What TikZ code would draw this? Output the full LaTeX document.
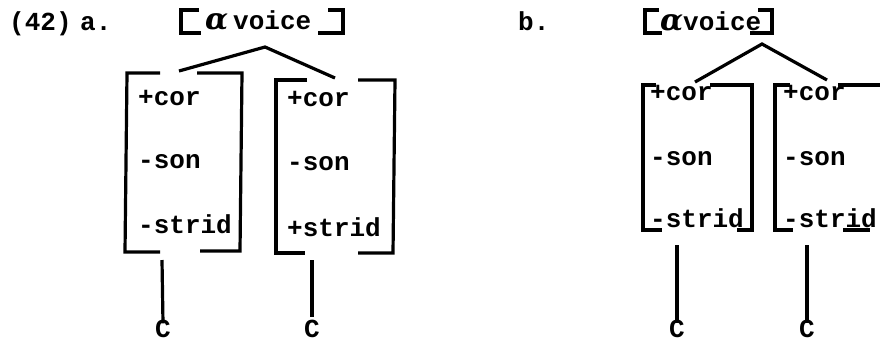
\documentclass[tikz,border=0pt]{standalone}
\usepackage{fontspec}
\setmonofont{Liberation Mono}
\newfontfamily\gkfont{DejaVu Serif}
\begin{document}
\begin{tikzpicture}[x=1pt,y=-1pt,
  txt/.style={font=\ttfamily\bfseries\fontsize{26}{28}\selectfont,inner sep=0pt,anchor=base west},
  alph/.style={font=\gkfont\bfseries\itshape\fontsize{30}{30}\selectfont,inner sep=0pt,anchor=base west},
  brk/.style={line width=3.2pt,line cap=butt,line join=miter},
  lnk/.style={line width=3.2pt,line cap=butt}]
\useasboundingbox (0,0) rectangle (880,341);
% labels
\node[txt] (num) at (9,30) {(42)};
\node[txt] (la) at (80,30) {a.};
\node[txt] (lb) at (518,30) {b.};
% ---------- a ----------
\node[alph] (aa) at (205,29) {α};
\node[txt] (va) at (233,29) {voice};
\draw[brk] (199,10) -- (181,10) -- (181,33) -- (201,33);
\draw[brk] (328,10) -- (343,10) -- (343,33) -- (318,33);
\coordinate (apa) at (265,47);
\coordinate (a1top) at (179,71);
\coordinate (a2top) at (335,78);
\draw[lnk] (a1top) -- (apa) -- (a2top);
% a1 box
\draw[brk] (160,73) -- (127,73) -- (125,252) -- (160,252);
\draw[brk] (197,73) -- (242,73) -- (240,251) -- (200,251);
\node[txt] (a1f1) at (138,105) {+cor};
\node[txt] (a1f2) at (138,168) {-son};
\node[txt] (a1f3) at (138,233) {-strid};
% a2 box
\draw[brk] (307,80) -- (276,80) -- (276,253) -- (305,253);
\draw[brk] (358,80) -- (395,80) -- (393,253) -- (358,253);
\node[txt] (a2f1) at (287,106) {+cor};
\node[txt] (a2f2) at (287,170) {-son};
\node[txt] (a2f3) at (287,236) {+strid};
% C nodes
\node[txt,anchor=base] (ca1) at (163,337) {C};
\node[txt,anchor=base] (ca2) at (312,337) {C};
\coordinate (a1b) at (162,260);
\coordinate (a2b) at (312,260);
\draw[lnk] (a1b) -- ([yshift=-4pt]ca1.north);
\draw[lnk] (a2b) -- ([yshift=2pt]ca2.north);
% ---------- b ----------
\node[alph] (ab) at (660,30) {α};
\node[txt] (vb) at (683,30) {voice};
\draw[brk] (659,10) -- (645,10) -- (645,33) -- (662,33);
\draw[brk] (758,10) -- (772,10) -- (772,33) -- (750,33);
\coordinate (apb) at (762,44);
\coordinate (b1top) at (695,82);
\coordinate (b2top) at (827,80);
\draw[lnk] (b1top) -- (apb) -- (b2top);
% b1 box
\draw[brk] (656,85) -- (643,85) -- (643,230) -- (662,230);
\draw[brk] (710,85) -- (752,85) -- (752,230) -- (737,230);
\node[txt] (b1f1) at (650,100) {+cor};
\node[txt] (b1f2) at (650,165) {-son};
\node[txt] (b1f3) at (650,227) {-strid};
% b2 box
\draw[brk] (790,85) -- (775,85) -- (775,230) -- (793,230);
\draw[brk] (838,85) -- (880,85);
\draw[brk] (843,230) -- (870,230);
\node[txt] (b2f1) at (783,100) {+cor};
\node[txt] (b2f2) at (783,165) {-son};
\node[txt] (b2f3) at (783,227) {-strid};
\node[txt,anchor=base] (cb1) at (677,337) {C};
\node[txt,anchor=base] (cb2) at (807,337) {C};
\coordinate (b1b) at (677,245);
\coordinate (b2b) at (807,245);
\draw[lnk] (b1b) -- ([yshift=-4pt]cb1.north);
\draw[lnk] (b2b) -- ([yshift=-4pt]cb2.north);
\end{tikzpicture}
\end{document}
